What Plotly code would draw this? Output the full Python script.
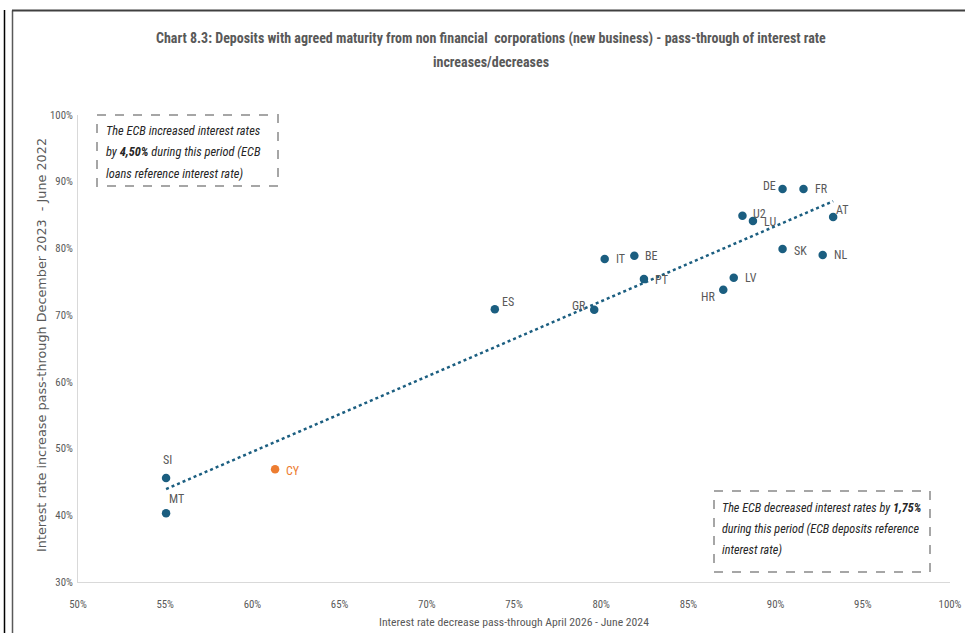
import numpy as np
import plotly.graph_objects as go

# ---- data ----
countries = ["SI", "MT", "ES", "GR", "IT", "BE", "PT", "HR", "LV", "U2", "LU", "DE", "FR", "AT", "SK", "NL"]
decrease_pt = [55.05, 55.05, 73.9, 79.6, 80.2, 81.9, 82.45, 87.0, 87.6, 88.1, 88.7, 90.4, 91.6, 93.3, 90.4, 92.7]
increase_pt = [45.6, 40.3, 70.9, 70.8, 78.4, 78.9, 75.4, 73.8, 75.6, 84.9, 84.1, 88.9, 88.9, 84.7, 79.9, 79.0]
cy_label = ["CY"]
cy_decrease = [61.3]
cy_increase = [46.9]
x_ticks = [50, 55, 60, 65, 70, 75, 80, 85, 90, 95, 100]
y_ticks = [30, 40, 50, 60, 70, 80, 90, 100]

# ---- label styles (anchor, dx px, dy px) ----
label_style = [("center", 1, -18), ("left", 2, -14), ("left", 6, -7), ("right", -7, -4),
               ("left", 10, 0), ("left", 10, 0), ("left", 10, 1), ("right", -7, 7),
               ("left", 10, 0), ("left", 10, -2), ("left", 10, 1), ("right", -6, -3),
               ("left", 10, 0), ("left", 2, -7), ("left", 10, 2), ("left", 10, 0)]
cy_style = ("left", 10, 2)

BLUE = "#1B5E80"
ORANGE = "#ED7D31"
GREY_TXT = "#595959"
NARROW = "Roboto Condensed, Liberation Sans, Arial, sans-serif"
YTITLE = "DejaVu Sans, Open Sans, sans-serif"

fig = go.Figure()

# linear trendline fitted on all points
xa = np.array(decrease_pt + cy_decrease)
ya = np.array(increase_pt + cy_increase)
slope, intercept = np.polyfit(xa, ya, 1)
tx = np.array([xa.min(), xa.max()])
fig.add_trace(go.Scatter(x=tx, y=slope * tx + intercept, mode="lines",
                         line=dict(color=BLUE, width=2.5, dash="dot"),
                         hoverinfo="skip", showlegend=False))

fig.add_trace(go.Scatter(x=decrease_pt, y=increase_pt, mode="markers",
                         marker=dict(color=BLUE, size=8.5), showlegend=False))
fig.add_trace(go.Scatter(x=cy_decrease, y=cy_increase, mode="markers",
                         marker=dict(color=ORANGE, size=8.5), showlegend=False))

L, R, T, B = 78, 15, 115, 51
W, H = 965, 633
PW, PH = W - L - R, H - T - B


def px(xp):
    return (xp - L) / PW


def py(yp):
    return (H - B - yp) / PH


shapes = [
    dict(type="line", xref="paper", yref="paper", x0=px(4.5), x1=px(4.5), y0=py(10), y1=py(640),
         line=dict(color="#000000", width=1.5)),
    dict(type="line", xref="paper", yref="paper", x0=px(12.5), x1=px(12.5), y0=py(10.5), y1=py(640),
         line=dict(color="#595959", width=1.5)),
    dict(type="line", xref="paper", yref="paper", x0=px(12), x1=px(970), y0=py(10.5), y1=py(10.5),
         line=dict(color="#404040", width=2)),
    dict(type="rect", xref="paper", yref="paper", x0=px(97), x1=px(278), y0=py(115), y1=py(186),
         line=dict(color="#A6A6A6", width=2, dash="dash"), fillcolor="rgba(0,0,0,0)"),
    dict(type="rect", xref="paper", yref="paper", x0=px(714), x1=px(930), y0=py(491), y1=py(572),
         line=dict(color="#A6A6A6", width=2, dash="dash"), fillcolor="rgba(0,0,0,0)"),
]

annotations = []
# point labels
for name, xv, yv, (anc, dx, dy) in zip(countries, decrease_pt, increase_pt, label_style):
    annotations.append(dict(x=xv, y=yv, xref="x", yref="y", text=name, showarrow=False,
                            xanchor=anc, yanchor="middle", xshift=dx, yshift=-dy, borderpad=0,
                            font=dict(family=NARROW, size=12, color=GREY_TXT)))
for name, xv, yv in zip(cy_label, cy_decrease, cy_increase):
    anc, dx, dy = cy_style
    annotations.append(dict(x=xv, y=yv, xref="x", yref="y", text=name, showarrow=False,
                            xanchor=anc, yanchor="middle", xshift=dx, yshift=-dy, borderpad=0,
                            font=dict(family=NARROW, size=12, color=ORANGE)))

box1 = ["The ECB increased interest rates",
        "by <b>4,50%</b> during this period (ECB",
        "loans reference interest rate)"]
box2 = ["The ECB decreased interest rates by <b>1,75%</b>",
        "during this period (ECB deposits reference",
        "interest rate)"]
for i, t in enumerate(box1):
    annotations.append(dict(xref="paper", yref="paper", x=px(105), y=py(130 + 21.5 * i), text=f"<i>{t}</i>",
                            showarrow=False, xanchor="left", yanchor="middle", borderpad=0,
                            font=dict(family=NARROW, size=12.4, color="#262626")))
for i, t in enumerate(box2):
    annotations.append(dict(xref="paper", yref="paper", x=px(721), y=py(508 + 21 * i), text=f"<i>{t}</i>",
                            showarrow=False, xanchor="left", yanchor="middle", borderpad=0,
                            font=dict(family=NARROW, size=12.2, color="#262626")))

# title lines
title_lines = ["Chart 8.3: Deposits with agreed maturity from non financial  corporations (new business) - pass-through of interest rate",
               "increases/decreases"]
for i, t in enumerate(title_lines):
    annotations.append(dict(xref="paper", yref="paper", x=px(491), y=py(38 + 24 * i), text=f"<b>{t}</b>",
                            showarrow=False, xanchor="center", yanchor="middle",
                            font=dict(family=NARROW, size=14, color=GREY_TXT)))

# axis titles
annotations.append(dict(xref="paper", yref="paper", x=px(514), y=py(622),
                        text="Interest rate decrease pass-through April 2026 - June 2024",
                        showarrow=False, xanchor="center", yanchor="middle",
                        font=dict(family=NARROW, size=11.7, color=GREY_TXT)))
annotations.append(dict(xref="paper", yref="paper", x=px(41), y=py(345),
                        text="Interest rate increase pass-through December 2023  - June 2022",
                        showarrow=False, xanchor="center", yanchor="middle", textangle=-90,
                        font=dict(family=YTITLE, size=12.8, color=GREY_TXT)))

fig.update_layout(
    width=W, height=H, autosize=False,
    margin=dict(l=L, r=R, t=T, b=B),
    paper_bgcolor="white", plot_bgcolor="white",
    shapes=shapes, annotations=annotations,
    xaxis=dict(range=[50, 100], tickvals=x_ticks, ticktext=[f"{v}%" for v in x_ticks],
               showgrid=False, zeroline=False, showline=True, linecolor="#D9D9D9", linewidth=1,
               ticks="", automargin=False, ticklabelstandoff=12,
               tickfont=dict(family=NARROW, size=10.8, color=GREY_TXT)),
    yaxis=dict(range=[30, 100], tickvals=y_ticks, ticktext=[f"{v}%" for v in y_ticks],
               showgrid=False, zeroline=False, showline=True, linecolor="#D9D9D9", linewidth=1,
               ticks="", automargin=False, ticklabelstandoff=2,
               tickfont=dict(family=NARROW, size=10.8, color=GREY_TXT)),
)

fig.write_html("out.html")
